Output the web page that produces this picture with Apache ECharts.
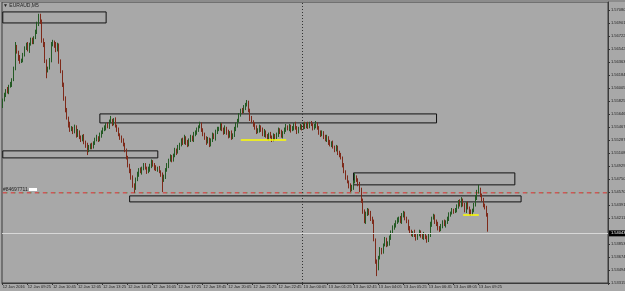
<!DOCTYPE html>
<html><head><meta charset="utf-8">
<script src="https://cdn.jsdelivr.net/npm/echarts@6/dist/echarts.min.js"></script>
<style>html,body{margin:0;padding:0;background:#a8a8a8;}#c{width:625px;height:291px;}</style>
</head><body><div id="c"></div>
<script>
const symbolTitle = '\u25BC EURAUD,M5';
const firstOpen = 1.5576;
const closes = [
1.5584,1.5591,1.5598,1.5595,1.5603,1.5606,1.5612,1.5628,1.5657,1.5650,1.5642,1.5637,1.5639,1.5646,1.5656,1.5660,1.5653,1.5661,1.5667,1.5664,
1.5670,1.5678,1.5688,1.5694,1.5692,1.5667,1.5660,1.5637,1.5625,1.5628,1.5639,1.5660,1.5664,1.5660,1.5653,1.5660,1.5637,1.5623,1.5605,1.5587,
1.5570,1.5559,1.5550,1.5543,1.5545,1.5540,1.5547,1.5536,1.5540,1.5532,1.5529,1.5534,1.5526,1.5522,1.5515,1.5518,1.5522,1.5519,1.5525,1.5529,
1.5532,1.5529,1.5536,1.5540,1.5543,1.5545,1.5550,1.5547,1.5554,1.5556,1.5552,1.5556,1.5548,1.5543,1.5536,1.5532,1.5529,1.5522,1.5515,1.5504,
1.5494,1.5485,1.5477,1.5467,1.5463,1.5474,1.5481,1.5488,1.5485,1.5490,1.5494,1.5490,1.5485,1.5488,1.5494,1.5499,1.5494,1.5490,1.5488,1.5490,
1.5485,1.5481,1.5474,1.5477,1.5488,1.5494,1.5501,1.5505,1.5501,1.5508,1.5515,1.5512,1.5518,1.5522,1.5529,1.5525,1.5532,1.5526,1.5522,1.5529,
1.5533,1.5529,1.5536,1.5540,1.5543,1.5547,1.5550,1.5543,1.5536,1.5532,1.5526,1.5529,1.5522,1.5529,1.5536,1.5532,1.5540,1.5543,1.5545,1.5550,
1.5543,1.5539,1.5545,1.5540,1.5534,1.5539,1.5532,1.5536,1.5543,1.5550,1.5556,1.5563,1.5570,1.5568,1.5573,1.5577,1.5580,1.5570,1.5559,1.5554,
1.5550,1.5545,1.5540,1.5543,1.5547,1.5543,1.5536,1.5540,1.5534,1.5532,1.5537,1.5533,1.5529,1.5534,1.5532,1.5537,1.5543,1.5540,1.5534,1.5539,
1.5543,1.5547,1.5544,1.5548,1.5543,1.5545,1.5550,1.5545,1.5541,1.5545,1.5548,1.5545,1.5550,1.5547,1.5551,1.5548,1.5552,1.5550,1.5545,1.5548,
1.5551,1.5545,1.5540,1.5536,1.5539,1.5533,1.5529,1.5532,1.5526,1.5522,1.5525,1.5519,1.5515,1.5518,1.5512,1.5508,1.5504,1.5494,1.5485,1.5477,
1.5471,1.5466,1.5460,1.5463,1.5471,1.5477,1.5474,1.5467,1.5460,1.5446,1.5430,1.5416,1.5426,1.5432,1.5428,1.5421,1.5416,1.5391,1.5361,1.5352,
1.5366,1.5377,1.5375,1.5384,1.5391,1.5384,1.5387,1.5394,1.5402,1.5408,1.5410,1.5416,1.5419,1.5421,1.5416,1.5424,1.5427,1.5421,1.5416,1.5408,
1.5402,1.5398,1.5401,1.5397,1.5394,1.5398,1.5402,1.5397,1.5394,1.5398,1.5394,1.5391,1.5397,1.5412,1.5421,1.5424,1.5416,1.5412,1.5408,1.5405,
1.5410,1.5416,1.5412,1.5416,1.5419,1.5426,1.5428,1.5432,1.5430,1.5432,1.5438,1.5443,1.5439,1.5446,1.5439,1.5432,1.5441,1.5435,1.5430,1.5427,
1.5432,1.5439,1.5449,1.5457,1.5460,1.5453,1.5446,1.5439,1.5435,1.5426,1.54043
];
const upWickPips = [
2,3,1,4,2,3,2,2,7,3,2,4,2,3,2,3,4,2,3,3,
2,3,4,9,9,3,2,4,3,2,3,4,3,2,4,3,2,3,2,3,
2,3,2,4,3,2,3,2,4,2,3,2,3,2,3,4,2,3,2,3,
4,2,3,2,3,4,2,3,3,6,2,3,4,2,3,2,3,2,3,2,
3,2,4,3,2,3,4,2,3,2,3,3,2,4,2,3,2,3,4,2,
3,2,3,4,2,3,2,4,3,2,3,2,4,3,2,3,4,2,3,2,
3,2,4,2,3,2,4,3,2,3,2,4,3,2,3,2,3,4,2,3,
2,3,4,2,3,2,3,2,4,3,2,3,2,3,4,3,4,3,2,3,
2,3,4,2,3,2,3,4,2,3,2,3,2,4,3,2,3,2,3,2,
3,4,2,3,2,3,2,4,3,2,3,2,3,4,2,3,2,3,2,3,
4,2,3,2,3,2,3,4,2,3,2,3,2,4,3,2,3,2,3,2,
3,2,3,4,2,6,3,2,4,3,2,3,4,3,2,3,2,3,2,3,
3,4,3,2,4,3,2,3,2,3,4,2,3,2,3,4,4,3,2,3,
2,3,2,4,3,2,3,2,3,4,2,3,3,4,2,3,2,3,4,2,
3,2,3,2,4,3,2,3,2,3,2,3,4,4,2,3,2,3,2,3,
2,3,4,3,7,3,2,3,2,3,2
];
const downWickPips = [
3,2,3,2,3,2,4,2,3,2,4,3,2,3,2,3,2,4,2,3,
3,2,3,2,3,4,3,2,11,3,2,3,2,4,3,2,3,2,3,4,
3,2,4,3,2,3,2,4,3,2,3,2,3,4,7,3,2,3,2,3,
2,3,2,4,3,2,3,2,3,2,4,3,2,3,2,3,4,2,3,2,
3,2,3,4,7,3,2,3,2,4,3,2,3,2,3,4,2,3,2,3,
2,3,17,3,2,3,4,2,3,2,3,4,2,3,2,3,2,4,3,2,
3,2,3,2,4,3,2,3,2,3,4,2,3,2,3,2,4,3,2,3,
2,3,2,4,3,2,3,2,3,2,4,3,2,3,2,3,2,3,4,2,
3,2,3,2,4,3,2,3,2,3,4,2,3,2,3,2,4,3,2,3,
2,3,2,3,4,2,3,2,4,3,2,3,2,3,2,4,3,2,3,2,
3,2,4,3,2,3,2,3,4,2,3,2,3,2,4,3,2,3,2,3,
2,4,3,2,3,2,3,2,3,4,3,2,3,2,3,4,3,2,3,11,
3,2,4,3,2,3,2,4,3,2,3,2,3,4,2,3,2,3,2,4,
3,2,3,2,4,3,2,3,2,3,2,4,3,2,3,2,3,2,4,3,
2,3,2,4,3,2,3,2,3,2,3,4,2,3,2,3,4,2,5,3,
2,3,2,3,2,3,2,3,2,3,2
];
const totalSlots = 387;
const xTickLabels = ['12 Jan 2016','12 Jan 09:25','12 Jan 10:45','12 Jan 12:05','12 Jan 13:25','12 Jan 14:45','12 Jan 16:05','12 Jan 17:25','12 Jan 18:45','12 Jan 20:05','12 Jan 21:25','12 Jan 22:45','13 Jan 00:05','13 Jan 01:25','13 Jan 02:45','13 Jan 04:05','13 Jan 05:25','13 Jan 06:45','13 Jan 08:05','13 Jan 09:25'];
const xTickStep = 16;
const yTickValues = [1.53315,1.53494,1.53674,1.53853,1.54211,1.54391,1.54570,1.54750,1.54929,1.55108,1.55287,1.55467,1.55646,1.55825,1.56005,1.56184,1.56363,1.56542,1.56722,1.56901,1.57080];
const yTickLabels = ['1.53315','1.53494','1.53674','1.53853','1.54211','1.54391','1.54570','1.54750','1.54929','1.55108','1.55287','1.55467','1.55646','1.55825','1.56005','1.56184','1.56363','1.56542','1.56722','1.56901','1.57080'];
const yMin = 1.53315, yMax = 1.57192;
const currentPriceLabel = '1.54043';
// rectangles: [startBar, endBar, topPrice, bottomPrice]
const rects = [[0,66,1.57055,1.56903],[62,277,1.55648,1.55524],[0,99,1.55138,1.55041],[81,331,1.54517,1.54434],[224,327,1.54834,1.54669]];
// yellow segments: [startBar, endBar, price]
const yellowSegs = [[152,181,1.55289],[294,304,1.54255]];
const orderLevel = 1.54559;
const dayBreakBar = 191;
const orderText = '#84697711';

const cats = [];
for (let i = 0; i < totalSlots; i++) cats.push(String(i));
const ohlc = closes.map((c, i) => {
  const o = i === 0 ? firstOpen : closes[i - 1];
  const hi = Math.max(o, c) + upWickPips[i] * 0.0001;
  const lo = Math.min(o, c) - downWickPips[i] * 0.0001;
  return [o, c, lo, hi];
});
const orderLine = [[0, orderLevel], [totalSlots - 1, orderLevel]];

const chart = echarts.init(document.getElementById('c'), null, {renderer: 'canvas'});
const fontFam = 'Liberation Sans';
const showX = (i) => i % xTickStep === 0 && i / xTickStep < xTickLabels.length;
chart.setOption({
  animation: false,
  backgroundColor: '#a8a8a8',
  grid: {left: 2, top: 2, right: 17, bottom: 8, show: true, borderColor: '#3a3a3a', borderWidth: 1, backgroundColor: 'transparent', containLabel: false, outerBoundsMode: 'none'},
  xAxis: {
    type: 'category', data: cats, boundaryGap: true,
    axisLine: {show: true, lineStyle: {color: '#3a3a3a'}},
    axisTick: {show: true, length: 2, interval: showX, lineStyle: {color: '#333'}},
    axisLabel: {show: true, interval: showX, showMinLabel: true, hideOverlap: false,
      formatter: (v, i) => xTickLabels[i / xTickStep] || '', fontSize: 4, color: '#222', fontFamily: fontFam, align: 'left', margin: 2},
    splitLine: {show: false}
  },
  yAxis: {
    type: 'value', position: 'right', min: yMin, max: yMax, scale: true,
    axisLine: {show: true, lineStyle: {color: '#3a3a3a'}},
    axisTick: {show: true, length: 2, customValues: yTickValues, lineStyle: {color: '#333'}},
    axisLabel: {show: true, customValues: yTickValues, fontSize: 4, color: '#222', fontFamily: fontFam, margin: 3,
      formatter: (v) => { const k = yTickValues.findIndex(t => Math.abs(t - v) < 1e-7); return k >= 0 ? yTickLabels[k] : ''; }},
    splitLine: {show: false}
  },
  series: [
  {type: 'line', data: orderLine, symbol: 'none', silent: true, z: 1,
    lineStyle: {color: '#5f9a5f', width: 1, type: [2, 6], dashOffset: 5}},
  {type: 'line', data: orderLine, symbol: 'none', silent: true, z: 1,
    lineStyle: {color: '#e03030', width: 1, type: [4, 4]}},
  {
    type: 'candlestick', data: ohlc, barWidth: 1, z: 3,
    itemStyle: {color: '#2f8a2f', color0: '#b8321e', borderColor: '#245a24', borderColor0: '#7e2a1a', borderWidth: 1},
    markArea: {silent: true, itemStyle: {color: 'rgba(0,0,0,0)', borderColor: '#111', borderWidth: 1},
      data: rects.map(r => [{xAxis: r[0], yAxis: r[2]}, {xAxis: r[1], yAxis: r[3]}])},
    markLine: {silent: true, symbol: 'none', animation: false,
      data: [
        {xAxis: dayBreakBar, lineStyle: {color: '#333', width: 1, type: [1, 2]}, label: {show: false}},
        {yAxis: closes[closes.length - 1], lineStyle: {color: '#d8d8d8', width: 1, type: 'solid'},
          label: {show: true, position: 'end', formatter: currentPriceLabel, color: '#fff', backgroundColor: '#000', fontSize: 4, fontFamily: fontFam, padding: [1, 2], distance: 1}},
        ...yellowSegs.map(s => [{coord: [s[0], s[2]], lineStyle: {color: '#ffff00', width: 1.5, type: 'solid'}, label: {show: false}}, {coord: [s[1], s[2]]}])
      ]}
  }],
  graphic: [
    {type: 'rect', left: 0, top: 0, shape: {width: 625, height: 2}, style: {fill: '#8c8c8c'}, silent: true},
    {type: 'text', left: 3, top: 3, style: {text: symbolTitle, fontSize: 5, fill: '#222', fontFamily: fontFam}},
    {type: 'text', left: 3, top: 187, style: {text: orderText, fontSize: 5, fill: '#222', fontFamily: fontFam}},
    {type: 'rect', left: 29, top: 188, shape: {width: 8, height: 3}, style: {fill: '#ffffff'}}
  ]
});
</script></body></html>
